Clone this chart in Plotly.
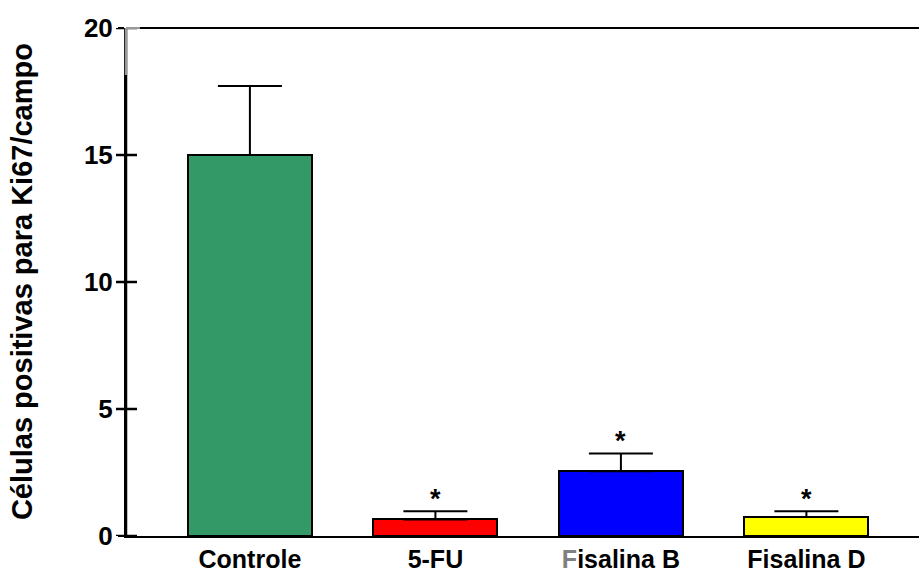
import plotly.graph_objects as go

# Ki67-positive cell counts per field, mean with upper error (SEM)
grupos = ["Controle", "5-FU", "Fisalina B", "Fisalina D"]
rotulos = ["Controle", "5-FU", "<span style='color:#808080'>F</span>isalina B", "Fisalina D"]
medias = [15.0, 0.65, 2.55, 0.75]
erros = [2.72, 0.32, 0.70, 0.22]
cores = ["#339966", "#FF0000", "#0000FF", "#FFFF00"]
significativo = [False, True, True, True]
y_ticks = [0, 5, 10, 15, 20]

FONT = "Liberation Sans, Arial, sans-serif"
PLOT_W = 919 - 126  # width of the plotting area in px

fig = go.Figure()
fig.add_trace(go.Bar(
    x=list(range(len(grupos))),
    y=medias,
    width=0.668,
    marker=dict(color=cores, line=dict(color="black", width=2)),
    error_y=dict(type="data", array=erros, arrayminus=[0] * len(erros),
                 symmetric=False, color="black", thickness=2, width=32),
    showlegend=False,
    hoverinfo="skip",
))

annotations = []
for i, (m, e, s) in enumerate(zip(medias, erros, significativo)):
    if s:
        annotations.append(dict(
            x=i, y=m + e, xref="x", yref="y", text="<b>*</b>", showarrow=False,
            yanchor="bottom", yshift=-5,
            font=dict(family=FONT, size=27, color="black"),
        ))

annotations.append(dict(
    x=-0.131, y=0.5, xref="paper", yref="paper",
    text="<b>Células positivas para Ki67/campo</b>", textangle=-90,
    showarrow=False, xanchor="center", yanchor="middle",
    font=dict(family=FONT, size=29, color="black"),
))

shapes = []
# y axis line
shapes.append(dict(type="line", xref="paper", yref="paper",
                   x0=0, x1=0, y0=0, y1=1, layer="above",
                   line=dict(color="#000000", width=2.5)))
# crossing tick marks on the y axis
for t in y_ticks:
    shapes.append(dict(type="line", xref="paper", yref="y", layer="above",
                       x0=-10 / PLOT_W, x1=11 / PLOT_W, y0=t, y1=t,
                       line=dict(color="#000000", width=2.5)))
# frame line along the top of the plot
shapes.append(dict(type="line", xref="paper", yref="paper", layer="above",
                   x0=0, x1=1, y0=1, y1=1, line=dict(color="black", width=2)))
# lighter segments at the top-left corner of the frame
shapes.append(dict(type="line", xref="paper", yref="paper", layer="above",
                   x0=0, x1=14 / PLOT_W, y0=1, y1=1, line=dict(color="#999999", width=2)))
shapes.append(dict(type="line", xref="paper", yref="y", layer="above",
                   x0=0, x1=0, y0=18.15, y1=20, line=dict(color="#999999", width=2.5)))

fig.update_layout(
    width=919, height=577,
    margin=dict(l=126, r=0, t=28, b=41),
    paper_bgcolor="white", plot_bgcolor="white",
    font=dict(family=FONT, color="black"),
    xaxis=dict(
        range=[-0.668, 3.607],
        tickmode="array", tickvals=list(range(len(grupos))),
        ticktext=[f"<b>{r}</b>" for r in rotulos],
        tickfont=dict(family=FONT, size=25, color="black"),
        showline=True, linecolor="black", linewidth=2,
        ticks="", showgrid=False, zeroline=False,
    ),
    yaxis=dict(
        range=[0, 20],
        tickmode="array", tickvals=y_ticks,
        ticktext=[f"<b>{t}</b>" for t in y_ticks],
        tickfont=dict(family=FONT, size=26, color="black"),
        showline=True, linecolor="black", linewidth=2,
        ticks="outside", ticklen=6, tickwidth=2, tickcolor="black",
        showgrid=False, zeroline=False,
    ),
    annotations=annotations,
    shapes=shapes,
    bargap=0,
)

fig.write_html("out.html")
